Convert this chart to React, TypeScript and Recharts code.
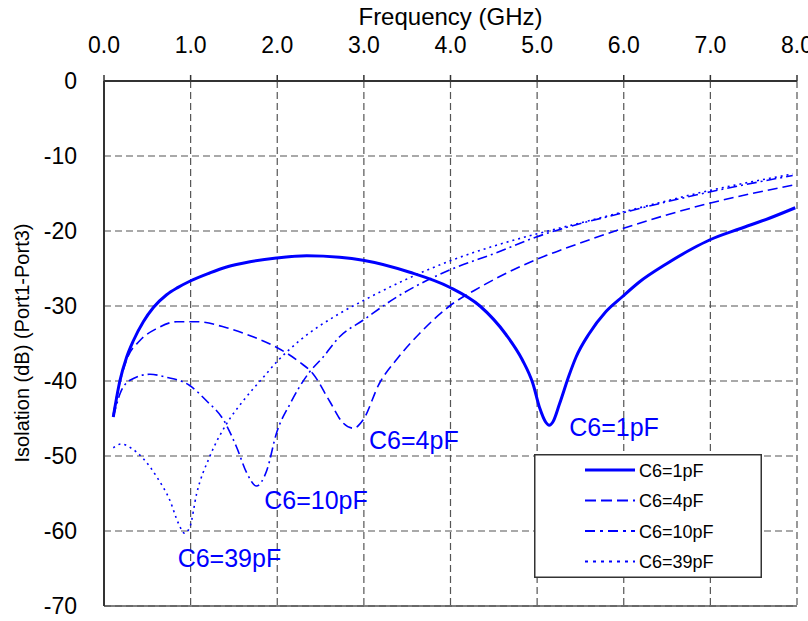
import React from 'react';
import {
  LineChart,
  Line,
  XAxis,
  YAxis,
  CartesianGrid,
  Legend,
  ReferenceLine,
  ReferenceDot,
} from 'recharts';

// ---- data (frequency in GHz, isolation in dB) ----
const c1Freq = [0.107, 0.185, 0.262, 0.34, 0.454, 0.57, 0.723, 0.85, 0.99, 1.22, 1.415, 1.685, 1.99, 2.34, 2.72, 2.99, 3.53, 3.99, 4.34, 4.64, 4.83, 4.95, 5.03, 5.1, 5.14, 5.18, 5.26, 5.37, 5.45, 5.6, 5.79, 5.98, 6.18, 6.49, 6.8, 6.99, 7.34, 7.68, 7.98];
const c1Db = [-44.8, -39.9, -36.8, -34.6, -32.1, -30.2, -28.5, -27.55, -26.7, -25.6, -24.8, -24.1, -23.6, -23.3, -23.5, -23.9, -25.5, -27.5, -30.0, -33.8, -37.2, -40.3, -43.6, -45.5, -45.9, -45.5, -43.0, -39.2, -36.8, -33.7, -30.8, -28.8, -26.8, -24.4, -22.3, -21.2, -19.7, -18.3, -16.9];

const c4Freq = [0.107, 0.146, 0.26, 0.415, 0.61, 0.84, 1.07, 1.415, 1.72, 1.99, 2.26, 2.41, 2.61, 2.76, 2.88, 2.99, 3.18, 3.38, 3.64, 3.99, 4.34, 4.72, 4.99, 5.26, 5.98, 6.99, 7.95];
const c4Db = [-44.5, -42.1, -37.2, -34.6, -33.0, -32.1, -32.1, -32.9, -34.1, -35.5, -37.5, -39.0, -42.8, -45.6, -46.3, -45.2, -40.3, -37.1, -33.7, -30.0, -27.5, -25.2, -23.8, -22.6, -19.7, -16.3, -13.9];

const c10Freq = [0.107, 0.185, 0.3, 0.53, 0.72, 0.99, 1.18, 1.38, 1.53, 1.65, 1.76, 1.88, 1.99, 2.15, 2.36, 2.53, 2.72, 2.99, 3.38, 3.99, 4.53, 4.99, 5.98, 6.99, 7.95];
const c10Db = [-44.8, -41.7, -39.9, -39.1, -39.5, -40.6, -42.6, -45.2, -48.8, -52.3, -54.0, -51.9, -47.0, -43.0, -39.0, -36.8, -34.1, -31.9, -28.8, -25.2, -22.9, -20.8, -17.6, -14.8, -12.6];

const c39Freq = [0.107, 0.2, 0.32, 0.45, 0.61, 0.76, 0.86, 0.93, 0.99, 1.07, 1.22, 1.415, 1.61, 1.84, 1.99, 2.26, 2.72, 2.99, 3.99, 4.53, 4.99, 5.3, 5.98, 6.99, 7.95];
const c39Db = [-48.9, -48.4, -49.0, -50.3, -52.8, -55.9, -59.0, -60.3, -59.5, -55.0, -50.1, -45.7, -42.6, -39.5, -37.5, -34.6, -31.0, -29.3, -24.0, -21.9, -20.4, -19.5, -17.5, -14.6, -12.4];

const seriesNames = ['C6=1pF', 'C6=4pF', 'C6=10pF', 'C6=39pF'];

const freqTicks = [0, 1, 2, 3, 4, 5, 6, 7, 8];
const dbTicks = [-70, -60, -50, -40, -30, -20, -10, 0];

const annoNames = ['C6=1pF', 'C6=4pF', 'C6=10pF', 'C6=39pF'];
const annoFreq = [5.37, 3.06, 1.85, 0.85];
const annoDb = [-47.3, -49.0, -57.1, -64.8];

// ---- build ----
const toPoints = (f: number[], d: number[]) => f.map((x, i) => ({ f: x, db: d[i] }));
const seriesData = [
  toPoints(c1Freq, c1Db),
  toPoints(c4Freq, c4Db),
  toPoints(c10Freq, c10Db),
  toPoints(c39Freq, c39Db),
];

const BLUE = '#0000ff';
const lineStyles = [
  { width: 3, dash: undefined as string | undefined },
  { width: 1.6, dash: '10 5' },
  { width: 1.6, dash: '10 4 2 4' },
  { width: 1.6, dash: '2 4' },
];
const legendDash = [undefined, '11 5', '10 5 3 5', '3 5'];

const FONT = "'Liberation Sans', Arial, sans-serif";

const LegendBox = () => (
  <svg width={228} height={124} style={{ display: 'block', fontFamily: FONT }}>
    <rect x={0.75} y={0.75} width={226.5} height={122.5} fill="#fff" stroke="#333" strokeWidth={1.5} />
    {seriesNames.map((n, i) => {
      const y = 16 + i * 30.5;
      return (
        <g key={n}>
          <line
            x1={51}
            x2={101}
            y1={y}
            y2={y}
            stroke={BLUE}
            strokeWidth={i === 0 ? 3 : 2}
            strokeDasharray={legendDash[i]}
          />
          <text x={105} y={y + 6.5} fontSize={18} fill="#000">
            {n}
          </text>
        </g>
      );
    })}
  </svg>
);

const YLabel = () => (
  <text
    x={22}
    y={343}
    transform="rotate(-90 22 343)"
    textAnchor="middle"
    dominantBaseline="central"
    fontSize={20}
    fill="#000"
    fontFamily={FONT}
  >
    Isolation (dB) (Port1-Port3)
  </text>
);

export default function App() {
  return (
    <div style={{ width: 808, height: 621 }}>
      <style>{'body{margin:0;}'}</style>
      <LineChart
        width={808}
        height={621}
        margin={{ top: 0, right: 11, bottom: 15, left: 0 }}
        style={{ fontFamily: FONT }}
      >
        <CartesianGrid stroke="#555" strokeDasharray="7 4" strokeWidth={1.2} />
        <XAxis
          xAxisId={0}
          type="number"
          dataKey="f"
          orientation="top"
          domain={[0, 8]}
          ticks={freqTicks}
          tickFormatter={(v: number) => v.toFixed(1)}
          height={81}
          tickSize={6}
          tickMargin={22}
          interval={0}
          allowDataOverflow
          axisLine={{ stroke: '#333', strokeWidth: 2 }}
          tickLine={{ stroke: '#333', strokeWidth: 1.5 }}
          tick={{ fontSize: 23, fill: '#000', fontFamily: FONT }}
          label={{ value: 'Frequency (GHz)', position: 'insideTop', offset: 8, fontSize: 24, fill: '#000', fontFamily: FONT }}
        />
        <YAxis
          yAxisId={0}
          type="number"
          domain={[-70, 0]}
          ticks={dbTicks}
          width={104}
          tickSize={0}
          tickMargin={27}
          interval={0}
          allowDataOverflow
          axisLine={{ stroke: '#333', strokeWidth: 2 }}
          tickLine={false}
          tick={{ fontSize: 23, fill: '#000', fontFamily: FONT }}
          label={<YLabel />}
        />
        <ReferenceLine y={-70} stroke="#555" strokeWidth={1.5} />
        {seriesData.map((d, i) => (
          <Line
            key={seriesNames[i]}
            data={d}
            dataKey="db"
            name={seriesNames[i]}
            type="monotone"
            stroke={BLUE}
            strokeWidth={lineStyles[i].width}
            strokeDasharray={lineStyles[i].dash}
            dot={false}
            activeDot={false}
            isAnimationActive={false}
          />
        ))}
        {annoNames.map((n, i) => (
          <ReferenceDot
            key={n}
            x={annoFreq[i]}
            y={annoDb[i]}
            r={1}
            shape={(p: any) => (
              <text x={p.cx} y={p.cy} fontSize={25} fill={BLUE} fontFamily={FONT}>
                {n}
              </text>
            )}
          />
        ))}
        <Legend
          layout="horizontal"
          verticalAlign="middle"
          align="center"
          content={() => <LegendBox />}
          wrapperStyle={{ position: 'absolute', left: 534, top: 454, width: 228, height: 124, margin: 0, padding: 0, lineHeight: 0 }}
        />
      </LineChart>
    </div>
  );
}
